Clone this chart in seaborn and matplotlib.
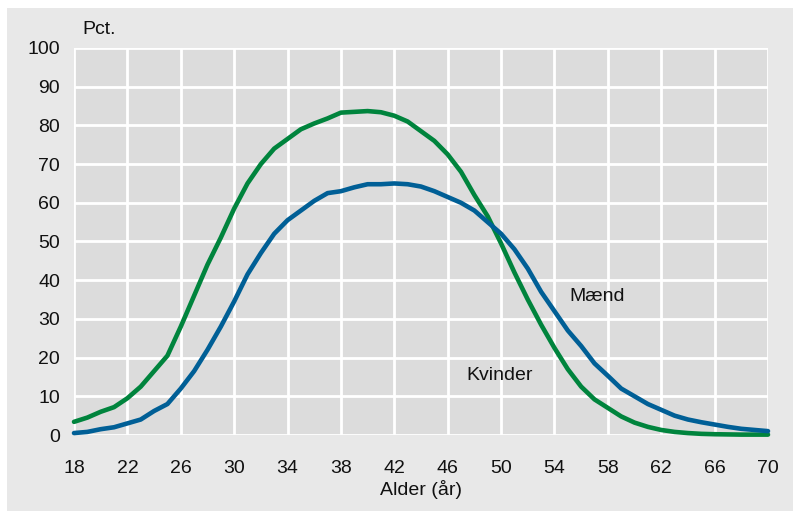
import matplotlib
matplotlib.use("Agg")
import matplotlib.pyplot as plt
import numpy as np
import pandas as pd
import seaborn as sns
from matplotlib.patches import Rectangle

ages = list(range(18, 71))
kvinder = [3.4, 4.5, 6.0, 7.2, 9.5, 12.5, 16.5, 20.5, 28.0, 36.0,
           44.0, 51.0, 58.5, 65.0, 70.0, 74.0, 76.5, 79.0, 80.5, 81.8,
           83.3, 83.5, 83.7, 83.4, 82.5, 81.0, 78.5, 76.0, 72.5, 68.0,
           62.0, 56.5, 49.5, 42.0, 35.0, 28.5, 22.5, 17.0, 12.5, 9.2,
           7.0, 4.8, 3.2, 2.1, 1.3, 0.8, 0.5, 0.3, 0.2, 0.15,
           0.1, 0.1, 0.1]
maend = [0.5, 0.8, 1.5, 2.0, 3.0, 4.0, 6.2, 8.0, 12.0, 16.5,
         22.0, 28.0, 34.5, 41.5, 47.0, 52.0, 55.5, 58.0, 60.5, 62.5,
         63.0, 64.0, 64.8, 64.8, 65.0, 64.8, 64.2, 63.0, 61.5, 60.0,
         58.0, 55.0, 52.0, 48.0, 43.0, 37.0, 32.0, 27.0, 23.0, 18.5,
         15.3, 12.0, 10.0, 8.0, 6.5, 5.0, 4.0, 3.3, 2.7, 2.1,
         1.6, 1.3, 1.0]

df = pd.DataFrame({
    "alder": ages * 2,
    "pct": kvinder + maend,
    "koen": ["Kvinder"] * len(ages) + ["Mænd"] * len(ages),
})

sns.set_style("white")
plt.rcParams["font.family"] = ["Liberation Sans Narrow", "Liberation Sans", "DejaVu Sans"]

fig = plt.figure(figsize=(7.95, 5.11), dpi=100, facecolor="white")
# light grey panel behind everything
fig.patches.append(Rectangle((7 / 795, 0), 786 / 795, 503 / 511,
                             transform=fig.transFigure, facecolor="#e8e8e8",
                             edgecolor="none", zorder=-10))
ax = fig.add_axes([74 / 795, 76 / 511, 694 / 795, 387 / 511])
ax.set_facecolor("#dcdcdc")

sns.lineplot(data=df, x="alder", y="pct", hue="koen",
             palette={"Kvinder": "#00843d", "Mænd": "#005f96"},
             linewidth=3.3, legend=False, ax=ax, clip_on=False)

ax.set_xlim(18, 70)
ax.set_ylim(0, 100)
ax.set_xticks(range(18, 71, 4))
ax.set_yticks(range(0, 101, 10))
ax.grid(True, color="white", linewidth=2)
ax.set_axisbelow(True)
for s in ax.spines.values():
    s.set_visible(False)
ax.tick_params(axis="both", length=0, labelsize=14, colors="#111111")
ax.tick_params(axis="x", pad=18)
ax.tick_params(axis="y", pad=10)
ax.set_xlabel("Alder (år)", fontsize=14, color="#111111", labelpad=2)
ax.set_ylabel("")

ax.text(57.2, 35.7, "Mænd", fontsize=14, ha="center", va="center", color="#111111")
ax.text(49.9, 15.5, "Kvinder", fontsize=14, ha="center", va="center", color="#111111")
fig.text(82 / 795, 1 - 30 / 511, "Pct.", fontsize=14, ha="left", va="center", color="#111111")

fig.savefig("out.png", dpi=100, facecolor="white")
